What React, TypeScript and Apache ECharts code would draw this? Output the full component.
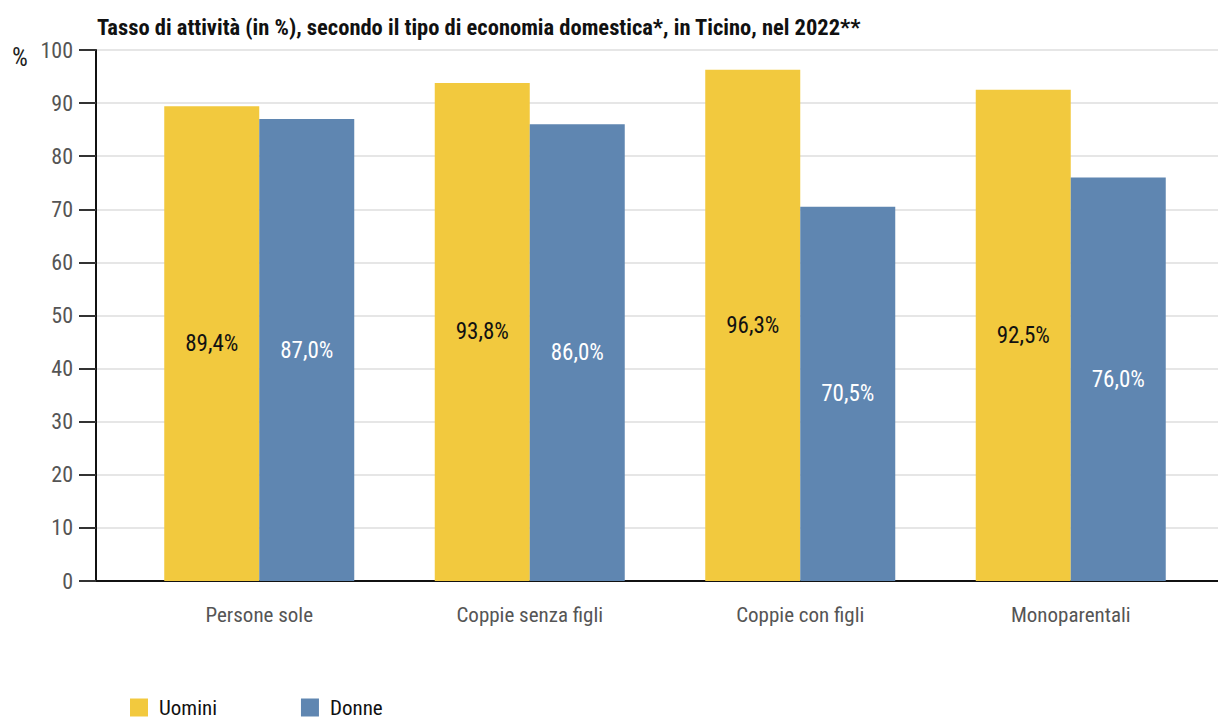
import React, { useEffect, useRef } from "react";
import * as echarts from "echarts";

const categories = ["Persone sole", "Coppie senza figli", "Coppie con figli", "Monoparentali"];
const uomini = [89.4, 93.8, 96.3, 92.5];
const donne = [87.0, 86.0, 70.5, 76.0];
const seriesNames = ["Uomini", "Donne"];
const title = "Tasso di attività (in %), secondo il tipo di economia domestica*, in Ticino, nel 2022**";

const FONT = "'Roboto Condensed', 'Liberation Sans Narrow', 'DejaVu Sans Condensed', 'Noto Sans', sans-serif";
const fmt = (v: number) => v.toFixed(1).replace(".", ",") + "%";

export default function App() {
  const ref = useRef<HTMLDivElement>(null);
  useEffect(() => {
    document.body.style.margin = "0";
    const chart = echarts.init(ref.current!, null, { renderer: "svg" });
    chart.setOption({
      animation: false,
      textStyle: { fontFamily: FONT },
      title: {
        text: title,
        left: 92,
        top: 10,
        textStyle: { fontFamily: FONT, fontSize: 22.5, fontWeight: "bold", color: "#111" },
      },
      graphic: [
        { type: "text", left: 12, top: 45, style: { text: "%", fontFamily: FONT, fontSize: 25, fill: "#222" } },
      ],
      legend: {
        left: 125,
        top: 692,
        itemWidth: 18,
        itemHeight: 18,
        itemGap: 84,
        icon: "rect",
        data: seriesNames,
        textStyle: { fontFamily: FONT, fontSize: 21, color: "#111", padding: [0, 0, 0, 6] },
      },
      grid: [
        { left: 96, right: 0, top: 50, bottom: 138 },
        { left: 124, right: 12, top: 50, bottom: 138 },
      ],
      xAxis: [
        {
          gridIndex: 0,
          type: "value",
          min: 0,
          max: 1,
          axisLine: { show: true, onZero: false, lineStyle: { color: "#111", width: 2 } },
          axisTick: { show: false },
          axisLabel: { show: false },
          splitLine: { show: false },
        },
        {
          gridIndex: 1,
          type: "category",
          data: categories,
          axisLine: { show: false },
          axisTick: { show: false },
          axisLabel: { fontFamily: FONT, fontSize: 21, color: "#555", margin: 23 },
        },
      ],
      yAxis: [
        {
          gridIndex: 0,
          type: "value",
          min: 0,
          max: 100,
          interval: 10,
          axisLine: { show: true, lineStyle: { color: "#111", width: 2 } },
          axisTick: { show: true, length: 17, lineStyle: { color: "#333", width: 2 } },
          axisLabel: { fontFamily: FONT, fontSize: 22, color: "#555", margin: 23 },
          splitLine: { show: true, lineStyle: { color: "#e6e6e6", width: 2 } },
        },
        {
          gridIndex: 1,
          type: "value",
          min: 0,
          max: 100,
          show: false,
        },
      ],
      series: [
        {
          name: seriesNames[0],
          type: "bar",
          xAxisIndex: 1,
          yAxisIndex: 1,
          data: uomini,
          barWidth: 95,
          barGap: "0%",
          itemStyle: { color: "#f2c93e" },
          label: { show: true, position: "inside", formatter: (p: any) => fmt(p.value), fontFamily: FONT, fontSize: 23, color: "#111" },
        },
        {
          name: seriesNames[1],
          type: "bar",
          xAxisIndex: 1,
          yAxisIndex: 1,
          data: donne,
          barWidth: 95,
          barGap: "0%",
          itemStyle: { color: "#5f86b1" },
          label: { show: true, position: "inside", formatter: (p: any) => fmt(p.value), fontFamily: FONT, fontSize: 23, color: "#fff" },
        },
      ],
    });
    return () => chart.dispose();
  }, []);
  return <div ref={ref} style={{ width: 1218, height: 719 }} />;
}
